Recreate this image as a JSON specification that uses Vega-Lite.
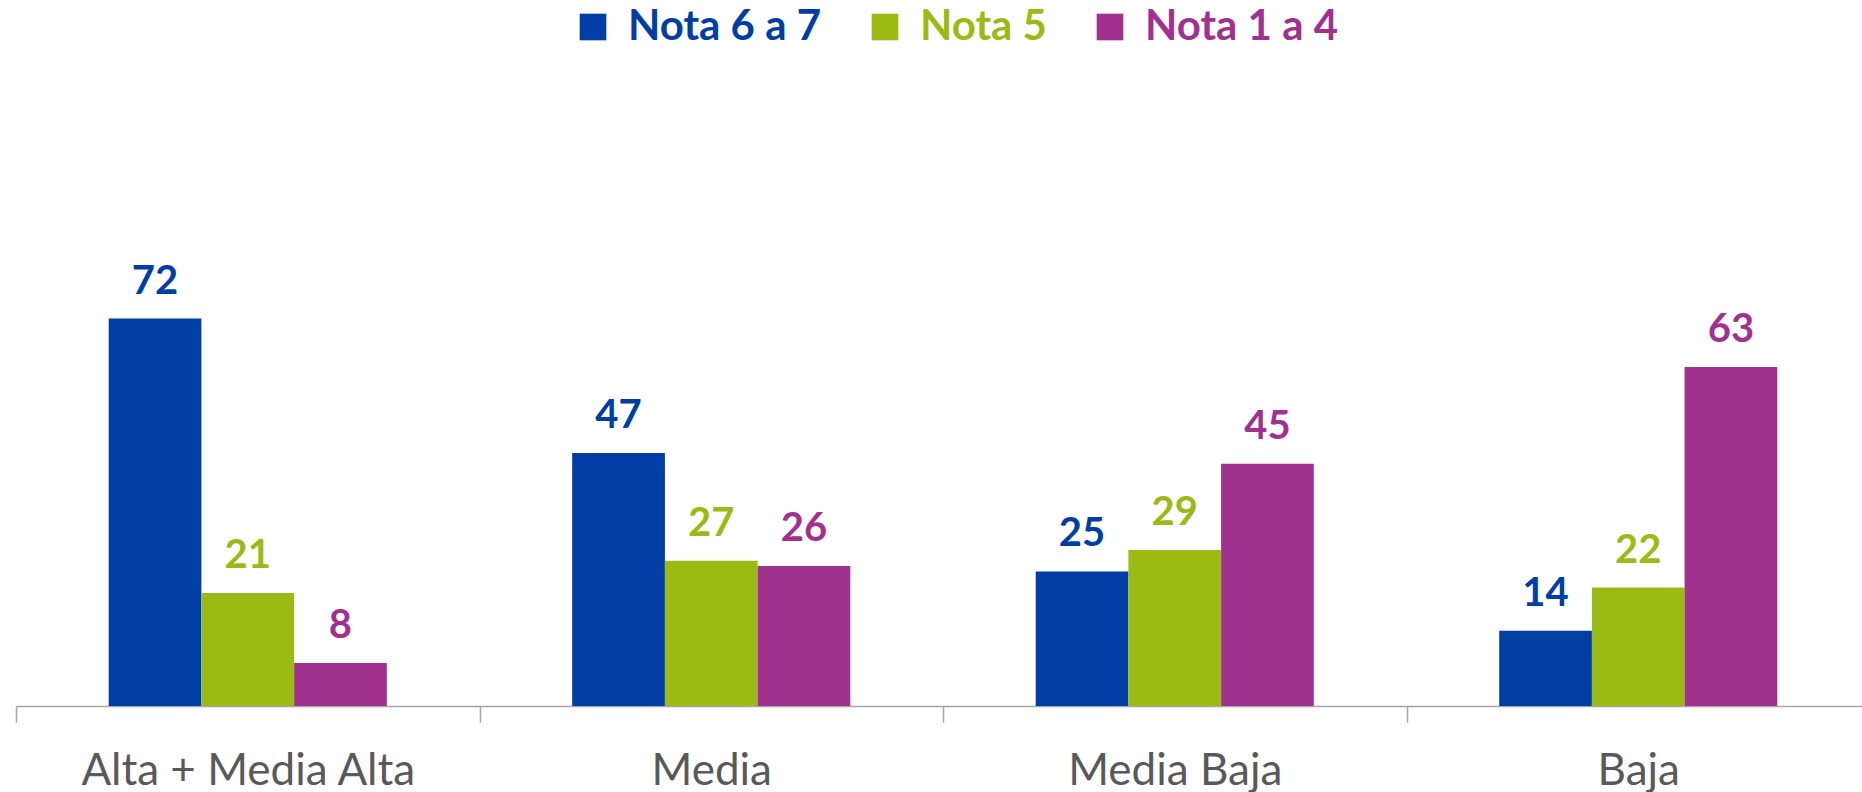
{
  "$schema": "https://vega.github.io/schema/vega-lite/v6.json",
  "width": 1846,
  "height": 706,
  "autosize": {"type": "none"},
  "padding": {"left": 16, "top": 0, "right": 0, "bottom": 86},
  "background": "white",
  "config": {"view": {"stroke": null}, "font": "Lato"},
  "data": {
    "values": [
      {"grupo": "Alta + Media Alta", "nota": "Nota 6 a 7", "valor": 72},
      {"grupo": "Alta + Media Alta", "nota": "Nota 5", "valor": 21},
      {"grupo": "Alta + Media Alta", "nota": "Nota 1 a 4", "valor": 8},
      {"grupo": "Media", "nota": "Nota 6 a 7", "valor": 47},
      {"grupo": "Media", "nota": "Nota 5", "valor": 27},
      {"grupo": "Media", "nota": "Nota 1 a 4", "valor": 26},
      {"grupo": "Media Baja", "nota": "Nota 6 a 7", "valor": 25},
      {"grupo": "Media Baja", "nota": "Nota 5", "valor": 29},
      {"grupo": "Media Baja", "nota": "Nota 1 a 4", "valor": 45},
      {"grupo": "Baja", "nota": "Nota 6 a 7", "valor": 14},
      {"grupo": "Baja", "nota": "Nota 5", "valor": 22},
      {"grupo": "Baja", "nota": "Nota 1 a 4", "valor": 63}
    ]
  },
  "encoding": {
    "x": {
      "field": "grupo",
      "type": "nominal",
      "sort": ["Alta + Media Alta", "Media", "Media Baja", "Baja"],
      "scale": {"range": [0, 1854], "paddingInner": 0, "paddingOuter": 0},
      "axis": {
        "title": null,
        "labelAngle": 0,
        "labelFont": "Lato",
        "labelFontSize": 44,
        "labelColor": "#595959",
        "labelBaseline": "alphabetic",
        "labelPadding": 62,
        "labelLimit": 0,
        "domainColor": "#A6A6A6",
        "domainWidth": 1.5,
        "tickColor": "#A6A6A6",
        "tickWidth": 1.5,
        "tickSize": 16,
        "tickBand": "extent",
        "grid": false
      }
    },
    "xOffset": {
      "field": "nota",
      "type": "nominal",
      "scale": {"domain": ["Nota 6 a 7", "Nota 5", "Nota 1 a 4"], "paddingInner": 0, "paddingOuter": 1}
    },
    "y": {
      "field": "valor",
      "type": "quantitative",
      "scale": {"domain": [0, 131.2], "nice": false, "zero": true},
      "axis": null
    },
    "color": {
      "field": "nota",
      "type": "nominal",
      "scale": {
        "domain": ["Nota 6 a 7", "Nota 5", "Nota 1 a 4"],
        "range": ["#003EA5", "#9BBB14", "#A0318F"]
      }
    }
  },
  "layer": [
    {
      "mark": {"type": "bar"},
      "encoding": {
        "color": {
          "field": "nota",
          "type": "nominal",
          "scale": {
            "domain": ["Nota 6 a 7", "Nota 5", "Nota 1 a 4"],
            "range": ["#003EA5", "#9BBB14", "#A0318F"]
          },
          "legend": {
            "title": null,
            "orient": "none",
            "direction": "horizontal",
            "legendX": 556,
            "legendY": 6,
            "padding": 0,
            "symbolType": "square",
            "symbolSize": 710,
            "symbolStrokeWidth": 0,
            "labelFont": "Lato",
            "labelFontWeight": "bold",
            "labelFontSize": 42,
            "labelOffset": 14,
            "columnPadding": 42,
            "labelLimit": 0,
            "encode": {
              "labels": {"update": {"fill": {"scale": "color", "field": "value"}}}
            }
          }
        }
      }
    },
    {
      "mark": {
        "type": "text",
        "font": "Lato",
        "fontWeight": "bold",
        "fontSize": 40,
        "baseline": "alphabetic",
        "align": "center",
        "dy": -25
      },
      "encoding": {
        "text": {"field": "valor", "type": "quantitative"}
      }
    }
  ]
}
